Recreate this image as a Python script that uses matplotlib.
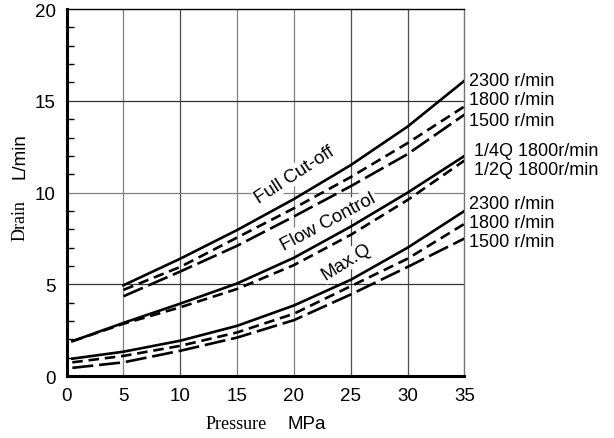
import matplotlib

matplotlib.use("Agg")
import matplotlib.pyplot as plt
from matplotlib.ticker import MultipleLocator

plt.rcParams["font.family"] = ["Liberation Sans", "DejaVu Sans"]

# pressure points (MPa)
p_full = [5, 10, 15, 20, 25, 30, 35]
p_low = [0.5, 5, 10, 15, 20, 25, 30, 35]

# Full Cut-off drain (L/min)
full_2300 = [4.95, 6.4, 7.96, 9.65, 11.5, 13.6, 16.1]
full_1800 = [4.7, 5.95, 7.55, 9.15, 10.85, 12.7, 14.7]
full_1500 = [4.35, 5.7, 7.1, 8.7, 10.35, 12.1, 14.25]

# Flow Control drain (L/min)
flow_q4 = [1.9, 2.9, 3.95, 5.05, 6.45, 8.15, 10.0, 12.0]
flow_q2 = [1.9, 2.85, 3.75, 4.75, 6.05, 7.7, 9.6, 11.75]

# Max.Q drain (L/min)
maxq_2300 = [0.95, 1.33, 1.93, 2.74, 3.85, 5.25, 7.0, 9.0]
maxq_1800 = [0.75, 1.1, 1.65, 2.38, 3.4, 4.9, 6.4, 8.3]
maxq_1500 = [0.45, 0.75, 1.38, 2.1, 3.05, 4.45, 5.95, 7.5]

right_labels = [
    (16.1, "2300 r/min"), (15.05, "1800 r/min"), (13.95, "1500 r/min"),
    (12.3, " 1/4Q 1800r/min"), (11.25, " 1/2Q 1800r/min"),
    (9.4, "2300 r/min"), (8.35, "1800 r/min"), (7.35, "1500 r/min"),
]

SOLID = "-"
DASH = (0, (4, 2.2))
LONG = (0, (8, 2.2))

fig = plt.figure(figsize=(6.14, 4.39), dpi=100)
ax = fig.add_axes([0.1085, 0.141, 0.648, 0.836])

for x in [5, 10, 15, 20, 25, 30]:
    ax.axvline(x, color="0.3" if x in (10, 25, 30) else "0.5", lw=0.9, zorder=1)
for y in [5, 10, 15]:
    ax.axhline(y, color="0.2" if y != 10 else "0.5", lw=0.9, zorder=1)

kw = dict(color="black", lw=1.9, zorder=3)
ax.plot(p_full, full_2300, linestyle=SOLID, **kw)
ax.plot(p_full, full_1800, linestyle=DASH, **kw)
ax.plot(p_full, full_1500, linestyle=LONG, **kw)
ax.plot(p_low, flow_q4, linestyle=SOLID, **kw)
ax.plot(p_low, flow_q2, linestyle=DASH, **kw)
ax.plot(p_low, maxq_2300, linestyle=SOLID, **kw)
ax.plot(p_low, maxq_1800, linestyle=DASH, **kw)
ax.plot(p_low, maxq_1500, linestyle=LONG, **kw)

box = dict(facecolor="white", edgecolor="none", pad=1)
ax.text(20.1, 11.0, "Full Cut-off", rotation=33, fontsize=13.5, ha="center",
        va="center", bbox=box, zorder=2)
ax.text(23.0, 8.45, "Flow Control", rotation=28, fontsize=13.5, ha="center",
        va="center", bbox=box, zorder=2)
ax.text(24.6, 6.27, "Max.Q", rotation=32, fontsize=13.5, ha="center",
        va="center", bbox=box, zorder=2)

for y, s in right_labels:
    ax.text(35.4, y, s, fontsize=13, ha="left", va="center", clip_on=False)

ax.set_xlim(0, 35)
ax.set_ylim(0, 20)
ax.set_xticks(range(0, 36, 5))
ax.set_yticks(range(0, 21, 5))
ax.yaxis.set_minor_locator(MultipleLocator(1))
ax.tick_params(axis="x", length=0, pad=8, labelsize=13.5)
ax.tick_params(axis="y", which="major", length=0, pad=8, labelsize=13.5)
ax.tick_params(axis="y", which="minor", direction="in", length=5, width=1)

ax.spines["left"].set_linewidth(2.2)
ax.spines["bottom"].set_linewidth(2.2)
ax.spines["top"].set_linewidth(1.0)
ax.spines["right"].set_linewidth(1.0)
ax.spines["right"].set_color("0.45")

fig.text(0.033, 0.497, "Drain", rotation=90, ha="center", va="center",
         fontsize=13, family="Liberation Serif")
fig.text(0.033, 0.645, "L/min", rotation=90, ha="center", va="center",
         fontsize=13.5)
fig.text(0.385, 0.032, "Pressure", ha="center", va="center",
         fontsize=13, family="Liberation Serif")
fig.text(0.5, 0.032, "MPa", ha="center", va="center", fontsize=13.5)

fig.savefig("out.png", dpi=100)
